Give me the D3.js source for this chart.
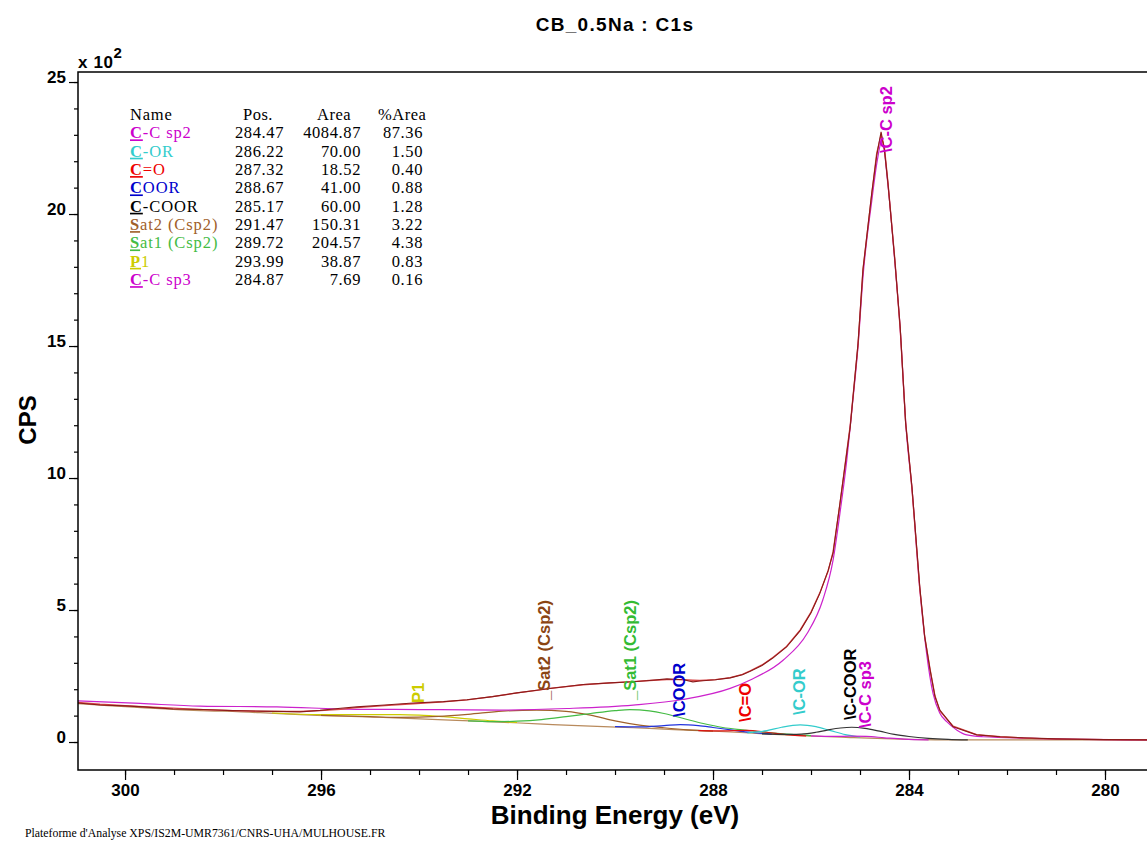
<!DOCTYPE html>
<html><head><meta charset="utf-8">
<script src="https://cdn.jsdelivr.net/npm/d3@7"></script>
<style>body{margin:0;background:#fff}svg{display:block}</style>
</head><body><svg id="c" width="1147" height="841"></svg>
<script>
// ---------- data ----------
const chartTitle = "CB_0.5Na : C1s";
const xLabel = "Binding Energy (eV)";
const yLabel = "CPS";
const footer = "Plateforme d'Analyse XPS/IS2M-UMR7361/CNRS-UHA/MULHOUSE.FR";
const xMajorTicks = [300, 296, 292, 288, 284, 280];
const yMajorTicks = [0, 500, 1000, 1500, 2000, 2500];

// measured spectrum and fit envelope
const dataBE = [300.98,300.51,300.0,299.63,299.02,298.4,297.8,297.2,296.43,296.02,295.6,295.27,294.7,294.12,293.5,293.02,292.5,292.0,291.6,291.33,290.65,290.1,289.63,289.3,288.94,288.6,288.41,288.27,287.95,287.65,287.4,287.24,287.0,286.78,286.5,286.22,286.0,285.82,285.65,285.55,285.41,285.27,285.2,285.04,284.94,284.76,284.66,284.57,284.5,284.43,284.29,284.18,284.07,283.94,283.78,283.68,283.57,283.47,283.37,283.1,282.62,282.14,281.67,281.0,280.0,279.0];
const dataCPS = [148,140,137,133,125,123,119,117,114,120,128,133,140,148,153,160,172,186,196,203,218,224,228,233,239,236,228,231,236,243,255,268,290,318,360,422,490,563,650,715,904,1095,1193,1511,1788,2080,2220,2311,2240,2117,1826,1572,1210,967,588,399,273,172,121,58,27,20,16,12,9,8];
const fitCPS = [150,143,138,134,128,123,119,116,116,119,124,130,138,145,152,160,172,186,196,203,217,224,229,233,236,236,234,233,236,244,256,270,292,320,362,425,492,565,648,720,900,1100,1200,1505,1790,2075,2230,2300,2250,2120,1830,1565,1215,960,580,400,275,175,118,60,28,20,15,11,9,8];

// background
const bgBE  = [300.98,299.02,297.24,296.08,294.86,293.98,292.96,291.94,291.27,290.5,289.63,288.9,288.27,287.65,287.04,286.22,285.2,284.18,283.16,279.0];
const bgCPS = [146,124,111,101,94,88,80,72,66,60,54,48,43,38,32,24,17,11,8,8];

// components (background + peak)
const ccsp2BE  = [300.98,299.69,298.47,296.9,295.27,293.98,292.35,290.98,289.63,288.61,287.65,287.24,286.57,286.08,285.76,285.55,285.41,285.27,285.16,285.04,284.94,284.76,284.65,284.55,284.43,284.29,284.18,284.06,283.94,283.78,283.51,283.37,283.23,283.02,282.82,282.49,281.5,279.0];
const ccsp2CPS = [156,146,136,133,124,123,121,127,140,161,203,235,310,411,538,689,866,1068,1268,1500,1760,2050,2200,2280,2110,1820,1565,1190,960,580,184,109,77,45,27,20,14,8];
const sat2BE  = [296.0,295.0,294.4,293.6,293.0,292.3,291.6,291.0,290.5,290.0,289.5,289.0,288.5,288.0];
const sat2CPS = [101,96,93,97,105,117,121,116,102,80,64,54,46,41];
const sat1BE  = [293.0,292.5,292.0,291.5,291.0,290.5,290.0,289.7,289.3,289.0,288.6,288.2,287.8,287.4,287.0,286.5,286.0];
const sat1CPS = [80,77,79,85,96,108,119,123,118,108,89,70,55,46,38,30,24];
const p1BE  = [297.0,296.0,295.0,294.4,293.99,293.5,293.0,292.5,292.0];
const p1CPS = [110,104,104,104,102,96,88,80,74];
const coorBE  = [290.0,289.5,289.0,288.67,288.3,288.0,287.6,287.2,286.8];
const coorCPS = [58,57,62,66,62,55,45,36,30];
const coBE  = [288.3,287.8,287.32,286.9,286.5,286.1];
const coCPS = [43,42,44,37,28,23];
const corBE  = [287.3,286.9,286.6,286.22,285.9,285.6,285.3,285.0];
const corCPS = [35,43,56,65,58,43,28,19];
const ccoorBE  = [287.0,286.4,286.2,285.9,285.67,285.4,285.17,284.9,284.6,284.3,284.0,283.6,283.2,282.8];
const ccoorCPS = [31,29,30,37,45,53,56,52,41,29,21,14,10,8];
const ccsp3BE  = [286.0,285.5,285.2,284.87,284.5,284.1,283.6];
const ccsp3CPS = [23,21,22,21,16,11,8];

// peak table
const compNames  = ["C-C sp2","C-OR","C=O","COOR","C-COOR","Sat2 (Csp2)","Sat1 (Csp2)","P1","C-C sp3"];
const compPos    = ["284.47","286.22","287.32","288.67","285.17","291.47","289.72","293.99","284.87"];
const compArea   = ["4084.87","70.00","18.52","41.00","60.00","150.31","204.57","38.87","7.69"];
const compPct    = ["87.36","1.50","0.40","0.88","1.28","3.22","4.38","0.83","0.16"];
const compColors = ["#cc00cc","#33cccc","#ee0000","#0000cc","#000000","#a0602a","#44bb44","#cccc00","#cc00cc"];

// peak labels on the plot
const peakLabels   = ["\\C-C sp2","_Sat2 (Csp2)","_Sat1 (Csp2)","\\COOR","\\C=O","\\C-OR","\\C-COOR","\\C-C sp3","P1"];
const peakLabelBE  = [284.35,291.33,289.57,288.57,287.22,286.12,285.08,284.78,293.9];
const peakLabelCPS = [2231,159,159,95,76,102,83,53,148];
const peakLabelColors = ["#cc00cc","#8b4513","#33bb33","#0000cc","#ee0000","#33cccc","#000000","#cc00cc","#cccc00"];

// ---------- drawing ----------
const svg = d3.select("#c");
const SANS = "'Liberation Sans', Arial, sans-serif";
const SERIF = "'Liberation Serif', 'Times New Roman', serif";

const x = d3.scaleLinear().domain([300.96, 279.0]).range([78, 1154]);
const y = d3.scaleLinear().domain([-106, 2538]).range([770, 72]);
const [xL, xR] = x.range();
const [yB, yT] = y.range();

svg.append("defs").append("clipPath").attr("id","clip")
  .append("rect").attr("x", xL).attr("y", yT).attr("width", xR - xL).attr("height", yB - yT);

const zip = (a, b) => a.map((v, i) => [v, b[i]]);
const line = d3.line().x(d => x(d[0])).y(d => y(d[1])).curve(d3.curveMonotoneX);
const lineLin = d3.line().x(d => x(d[0])).y(d => y(d[1]));

const g = svg.append("g").attr("clip-path", "url(#clip)");
const series = [
  [bgBE, bgCPS, "#b88a5c"],
  [p1BE, p1CPS, "#cccc00"],
  [sat2BE, sat2CPS, "#a0602a"],
  [sat1BE, sat1CPS, "#44bb44"],
  [coorBE, coorCPS, "#2233dd"],
  [coBE, coCPS, "#dd1111"],
  [corBE, corCPS, "#33cccc"],
  [ccoorBE, ccoorCPS, "#333333"],
  [ccsp3BE, ccsp3CPS, "#cc22cc"],
  [ccsp2BE, ccsp2CPS, "#cc22cc"]
];
series.forEach(([be, c, col]) => {
  g.append("path").attr("d", line(zip(be, c))).attr("fill","none").attr("stroke", col).attr("stroke-width", 1.2);
});
g.append("path").attr("d", lineLin(zip(dataBE, fitCPS))).attr("fill","none").attr("stroke","#d84848").attr("stroke-width",1.3);
g.append("path").attr("d", lineLin(zip(dataBE, dataCPS))).attr("fill","none").attr("stroke","#8b1a1a").attr("stroke-width",1.1);

// peak labels
peakLabels.forEach((t, i) => {
  svg.append("text")
    .attr("transform", `translate(${x(peakLabelBE[i])},${y(peakLabelCPS[i])}) rotate(-90)`)
    .attr("font-family", SANS).attr("font-weight", "bold").attr("font-size", 16.5)
    .attr("fill", peakLabelColors[i]).text(t);
});

// frame
svg.append("rect").attr("x", xL).attr("y", yT).attr("width", xR - xL).attr("height", yB - yT)
  .attr("fill","none").attr("stroke","#000").attr("stroke-width",1.5);

// axes
const yAxis = svg.append("g").attr("transform", `translate(${xL},0)`)
  .call(d3.axisLeft(y).tickValues(yMajorTicks).tickSize(9).tickPadding(3).tickFormat(d => d / 100));
const yMinor = svg.append("g").attr("transform", `translate(${xL},0)`)
  .call(d3.axisLeft(y).tickValues(d3.range(0, 2501, 100)).tickSize(4).tickFormat(""));
const xAxis = svg.append("g").attr("transform", `translate(0,${yB})`)
  .call(d3.axisBottom(x).tickValues(xMajorTicks).tickSize(10).tickPadding(4).tickFormat(d3.format("d")));
const xMinor = svg.append("g").attr("transform", `translate(0,${yB})`)
  .call(d3.axisBottom(x).tickValues(d3.range(280, 301, 1)).tickSize(5).tickFormat(""));
[yAxis, yMinor, xAxis, xMinor].forEach(a => {
  a.select(".domain").remove();
  a.selectAll("line").attr("stroke","#000").attr("stroke-width",1.2);
  a.selectAll("text").attr("font-family", SANS).attr("font-weight","bold").attr("font-size",17).attr("fill","#000");
});
yAxis.selectAll("text").attr("dy", "0.02em");

// exponent label
const ex = svg.append("text").attr("x", xL).attr("y", 68).attr("font-family", SANS)
  .attr("font-weight","bold").attr("font-size",17).attr("letter-spacing",0.6).attr("fill","#000");
ex.append("tspan").text("x 10");
ex.append("tspan").attr("dy",-10).attr("font-size",15).text("2");

// title, axis labels, footer
svg.append("text").attr("x", 615).attr("y", 31).attr("text-anchor","middle")
  .attr("font-family", SANS).attr("font-weight","bold").attr("font-size",19).attr("letter-spacing",1.3).text(chartTitle);
svg.append("text").attr("x", 615).attr("y", 824).attr("text-anchor","middle")
  .attr("font-family", SANS).attr("font-weight","bold").attr("font-size",26).text(xLabel);
svg.append("text").attr("transform","translate(36,420) rotate(-90)").attr("text-anchor","middle")
  .attr("font-family", SANS).attr("font-weight","bold").attr("font-size",24).text(yLabel);
svg.append("text").attr("x", 25).attr("y", 837).attr("font-family", SERIF).attr("font-size",11.8).text(footer);

// peak table
const tbl = svg.append("g").attr("font-family", SERIF).attr("font-size", 16.5);
const hdrY = 120, rowH = 18.35;
tbl.append("text").attr("x",130).attr("y",hdrY).attr("letter-spacing",0.8).text("Name");
tbl.append("text").attr("x",243).attr("y",hdrY).attr("letter-spacing",0.5).text("Pos.");
tbl.append("text").attr("x",317).attr("y",hdrY).attr("letter-spacing",0.5).text("Area");
tbl.append("text").attr("x",378).attr("y",hdrY).attr("letter-spacing",0.5).text("%Area");
compNames.forEach((n, i) => {
  const yy = hdrY + rowH * (i + 1);
  const t = tbl.append("text").attr("x",130).attr("y",yy).attr("fill", compColors[i]).attr("letter-spacing",0.9);
  t.append("tspan").attr("font-weight","bold").style("text-decoration","underline").text(n[0]);
  t.append("tspan").text(n.slice(1));
  tbl.append("text").attr("x",284).attr("y",yy).attr("text-anchor","end").attr("letter-spacing",0.6).text(compPos[i]);
  tbl.append("text").attr("x",361).attr("y",yy).attr("text-anchor","end").attr("letter-spacing",0.6).text(compArea[i]);
  tbl.append("text").attr("x",423).attr("y",yy).attr("text-anchor","end").attr("letter-spacing",0.6).text(compPct[i]);
});
</script></body></html>
